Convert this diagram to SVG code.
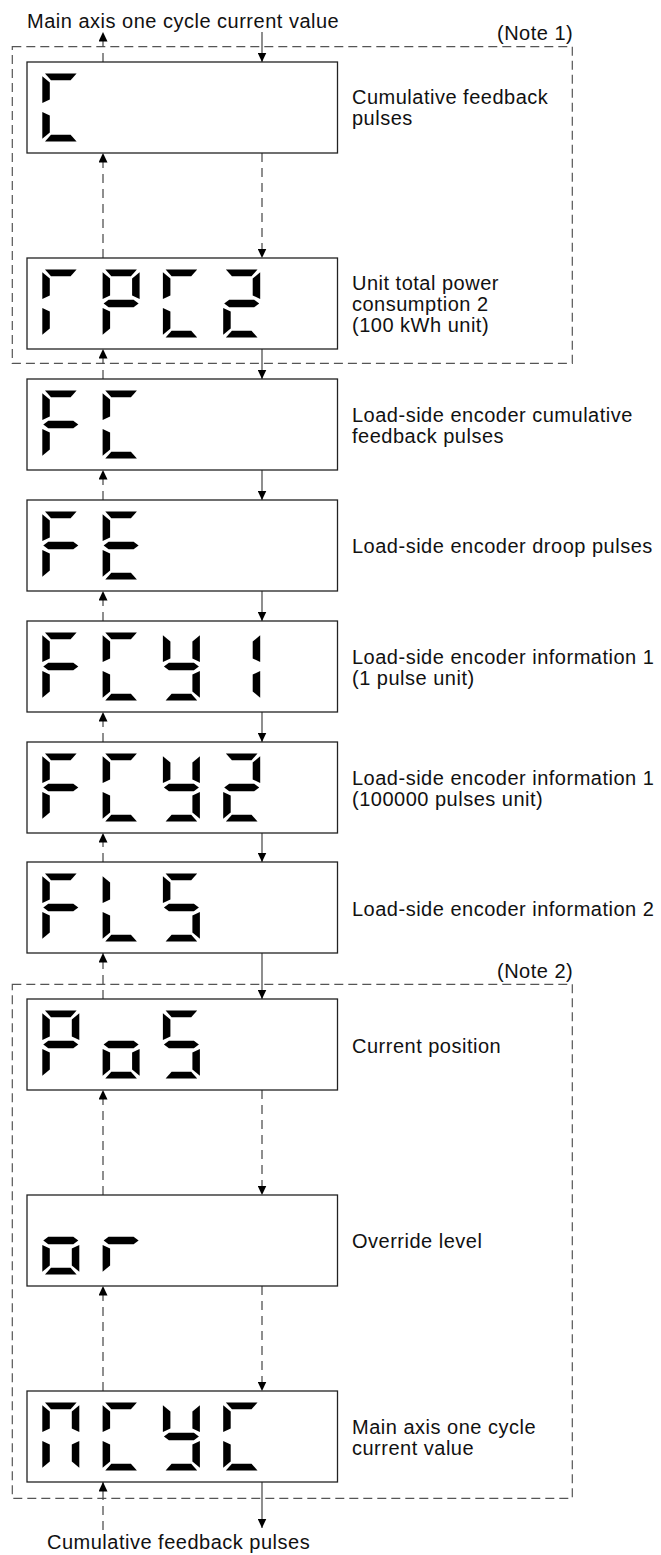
<svg xmlns="http://www.w3.org/2000/svg" xmlns:xlink="http://www.w3.org/1999/xlink" width="661" height="1555" viewBox="0 0 661 1555">
<style>
  .bg { fill: #ffffff; }
  .box { fill: #ffffff; stroke: #222222; stroke-width: 1.3; }
  .region { fill: none; stroke: #555555; stroke-width: 1.2; stroke-dasharray: 9 5; }
  .seg { fill: #000000; }
  .lbl { font-family: "Liberation Sans", Arial, Helvetica, sans-serif; font-size: 20px; letter-spacing: 0.5px; fill: #111111; }
  .solid { stroke: #444444; stroke-width: 1.2; fill: none; marker-end: url(#ah); }
  .dash { stroke: #444444; stroke-width: 1.2; fill: none; stroke-dasharray: 9 6; marker-end: url(#ah); }
</style>
<defs>
  <marker id="ah" viewBox="0 0 10 10" refX="10" refY="5" markerWidth="9.5" markerHeight="9" markerUnits="userSpaceOnUse" orient="auto" preserveAspectRatio="none">
    <path d="M0,0 L10,5 L0,10 Z" fill="#000000"/>
  </marker>
  <polygon id="sa" class="seg" points="2.7,0 34.3,0 28.3,6.8 8.7,6.8"/>
  <polygon id="sb" class="seg" points="37,2.7 29.5,9 29.5,26 37,29.5"/>
  <polygon id="sc" class="seg" points="37,38.5 29.5,42 29.5,59 37,65.3"/>
  <polygon id="sd" class="seg" points="8.7,61.3 28.3,61.3 34.3,68 2.7,68"/>
  <polygon id="se" class="seg" points="0,38.5 7.5,42 7.5,59 0,65.3"/>
  <polygon id="sf" class="seg" points="0,2.7 7.5,9 7.5,26 0,29.5"/>
  <polygon id="sg" class="seg" points="1,34 6,30.3 31,30.3 36,34 31,37.7 6,37.7"/>
  <g id="dC"><use xlink:href="#sa"/><use xlink:href="#sf"/><use xlink:href="#se"/><use xlink:href="#sd"/></g>
  <g id="dR"><use xlink:href="#sa"/><use xlink:href="#sf"/><use xlink:href="#se"/></g>
  <g id="dP"><use xlink:href="#sa"/><use xlink:href="#sb"/><use xlink:href="#sf"/><use xlink:href="#sg"/><use xlink:href="#se"/></g>
  <g id="d2"><use xlink:href="#sa"/><use xlink:href="#sb"/><use xlink:href="#sg"/><use xlink:href="#se"/><use xlink:href="#sd"/></g>
  <g id="dF"><use xlink:href="#sa"/><use xlink:href="#sf"/><use xlink:href="#sg"/><use xlink:href="#se"/></g>
  <g id="dE"><use xlink:href="#sa"/><use xlink:href="#sf"/><use xlink:href="#sg"/><use xlink:href="#se"/><use xlink:href="#sd"/></g>
  <g id="dY"><use xlink:href="#sf"/><use xlink:href="#sb"/><use xlink:href="#sg"/><use xlink:href="#sc"/><use xlink:href="#sd"/></g>
  <g id="d1"><use xlink:href="#sb"/><use xlink:href="#sc"/></g>
  <g id="dL"><use xlink:href="#sf"/><use xlink:href="#se"/><use xlink:href="#sd"/></g>
  <g id="dS"><use xlink:href="#sa"/><use xlink:href="#sf"/><use xlink:href="#sg"/><use xlink:href="#sc"/><use xlink:href="#sd"/></g>
  <g id="do"><use xlink:href="#sg"/><use xlink:href="#sc"/><use xlink:href="#sd"/><use xlink:href="#se"/></g>
  <g id="dr"><use xlink:href="#sg"/><use xlink:href="#se"/></g>
  <g id="dN"><use xlink:href="#sa"/><use xlink:href="#sf"/><use xlink:href="#sb"/><use xlink:href="#se"/><use xlink:href="#sc"/></g>
</defs>
<rect class="bg" x="0" y="0" width="661" height="1555"/>

<g id="regions">
  <rect class="region" x="12.3" y="46.7" width="560" height="316.6"/>
  <rect class="region" x="12.3" y="984.3" width="560" height="514"/>
  <text class="lbl" x="497" y="40">(Note 1)</text>
  <text class="lbl" x="497" y="977.5">(Note 2)</text>
</g>

<g id="external-labels">
  <text class="lbl" x="27" y="28">Main axis one cycle current value</text>
  <text class="lbl" x="47" y="1549">Cumulative feedback pulses</text>
</g>

<g id="connectors">
  <line class="dash" x1="103" y1="62" x2="103" y2="32"/>
  <line class="solid" x1="262" y1="32" x2="262" y2="62"/>
  <line class="dash" x1="103" y1="258" x2="103" y2="153"/>
  <line class="dash" x1="262" y1="153" x2="262" y2="258"/>
  <line class="dash" x1="103" y1="379" x2="103" y2="349"/>
  <line class="solid" x1="262" y1="349" x2="262" y2="379"/>
  <line class="dash" x1="103" y1="500" x2="103" y2="470"/>
  <line class="solid" x1="262" y1="470" x2="262" y2="500"/>
  <line class="dash" x1="103" y1="621" x2="103" y2="591"/>
  <line class="solid" x1="262" y1="591" x2="262" y2="621"/>
  <line class="dash" x1="103" y1="742" x2="103" y2="712"/>
  <line class="solid" x1="262" y1="712" x2="262" y2="742"/>
  <line class="dash" x1="103" y1="862" x2="103" y2="833"/>
  <line class="solid" x1="262" y1="833" x2="262" y2="862"/>
  <line class="dash" x1="103" y1="999" x2="103" y2="953"/>
  <line class="solid" x1="262" y1="953" x2="262" y2="999"/>
  <line class="dash" x1="103" y1="1195" x2="103" y2="1090"/>
  <line class="dash" x1="262" y1="1090" x2="262" y2="1195"/>
  <line class="dash" x1="103" y1="1391" x2="103" y2="1286"/>
  <line class="dash" x1="262" y1="1286" x2="262" y2="1391"/>
  <line class="dash" x1="103" y1="1530" x2="103" y2="1482"/>
  <line class="solid" x1="262" y1="1482" x2="262" y2="1528"/>
</g>

<g id="node-C">
  <rect class="box" x="27" y="62" width="310.5" height="91"/>
  <use xlink:href="#dC" x="42.3" y="73.5"/>
  <text class="lbl" x="352" y="104">Cumulative feedback</text>
  <text class="lbl" x="352" y="125">pulses</text>
</g>

<g id="node-rPC2">
  <rect class="box" x="27" y="258" width="310.5" height="91"/>
  <use xlink:href="#dR" x="42.3" y="269.5"/>
  <use xlink:href="#dP" x="102.6" y="269.5"/>
  <use xlink:href="#dC" x="162.9" y="269.5"/>
  <use xlink:href="#d2" x="223.2" y="269.5"/>
  <text class="lbl" x="352" y="289.5">Unit total power</text>
  <text class="lbl" x="352" y="310.5">consumption 2</text>
  <text class="lbl" x="352" y="331.5">(100 kWh unit)</text>
</g>

<g id="node-FC">
  <rect class="box" x="27" y="379" width="310.5" height="91"/>
  <use xlink:href="#dF" x="42.3" y="390.5"/>
  <use xlink:href="#dC" x="102.6" y="390.5"/>
  <text class="lbl" x="352" y="421.5">Load-side encoder cumulative</text>
  <text class="lbl" x="352" y="442.5">feedback pulses</text>
</g>

<g id="node-FE">
  <rect class="box" x="27" y="500" width="310.5" height="91"/>
  <use xlink:href="#dF" x="42.3" y="511.5"/>
  <use xlink:href="#dE" x="102.6" y="511.5"/>
  <text class="lbl" x="352" y="553">Load-side encoder droop pulses</text>
</g>

<g id="node-FCy1">
  <rect class="box" x="27" y="621" width="310.5" height="91"/>
  <use xlink:href="#dF" x="42.3" y="632.5"/>
  <use xlink:href="#dC" x="102.6" y="632.5"/>
  <use xlink:href="#dY" x="162.9" y="632.5"/>
  <use xlink:href="#d1" x="223.2" y="632.5"/>
  <text class="lbl" x="352" y="663.5">Load-side encoder information 1</text>
  <text class="lbl" x="352" y="684.5">(1 pulse unit)</text>
</g>

<g id="node-FCy2">
  <rect class="box" x="27" y="742" width="310.5" height="91"/>
  <use xlink:href="#dF" x="42.3" y="753.5"/>
  <use xlink:href="#dC" x="102.6" y="753.5"/>
  <use xlink:href="#dY" x="162.9" y="753.5"/>
  <use xlink:href="#d2" x="223.2" y="753.5"/>
  <text class="lbl" x="352" y="784.5">Load-side encoder information 1</text>
  <text class="lbl" x="352" y="805.5">(100000 pulses unit)</text>
</g>

<g id="node-FLS">
  <rect class="box" x="27" y="862" width="310.5" height="91"/>
  <use xlink:href="#dF" x="42.3" y="873.5"/>
  <use xlink:href="#dL" x="102.6" y="873.5"/>
  <use xlink:href="#dS" x="162.9" y="873.5"/>
  <text class="lbl" x="352" y="916">Load-side encoder information 2</text>
</g>

<g id="node-PoS">
  <rect class="box" x="27" y="999" width="310.5" height="91"/>
  <use xlink:href="#dP" x="42.3" y="1010.5"/>
  <use xlink:href="#do" x="102.6" y="1010.5"/>
  <use xlink:href="#dS" x="162.9" y="1010.5"/>
  <text class="lbl" x="352" y="1053">Current position</text>
</g>

<g id="node-or">
  <rect class="box" x="27" y="1195" width="310.5" height="91"/>
  <use xlink:href="#do" x="42.3" y="1206.5"/>
  <use xlink:href="#dr" x="102.6" y="1206.5"/>
  <text class="lbl" x="352" y="1248">Override level</text>
</g>

<g id="node-McyC">
  <rect class="box" x="27" y="1391" width="310.5" height="91"/>
  <use xlink:href="#dN" x="42.3" y="1402.5"/>
  <use xlink:href="#dC" x="102.6" y="1402.5"/>
  <use xlink:href="#dY" x="162.9" y="1402.5"/>
  <use xlink:href="#dC" x="223.2" y="1402.5"/>
  <text class="lbl" x="352" y="1433.5">Main axis one cycle</text>
  <text class="lbl" x="352" y="1454.5">current value</text>
</g>
</svg>
